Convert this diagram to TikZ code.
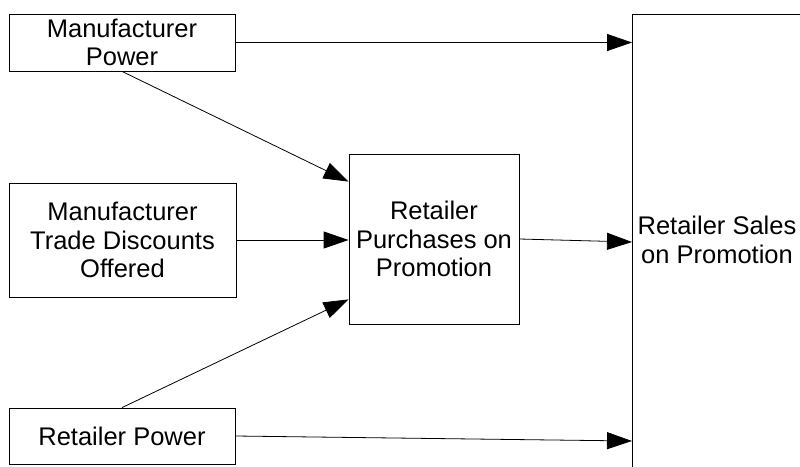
\documentclass[tikz,border=0pt]{standalone}
\usepackage{fontspec}
\setmainfont{Liberation Sans}
\usetikzlibrary{arrows.meta, calc}

\begin{document}
\begin{tikzpicture}[
    x=1pt, y=-1pt,
    factor/.style={rectangle, draw, line width=0.8pt, align=center, inner sep=0pt, font=\fontsize{25.5}{28.5}\selectfont},
    caption/.style={align=center, inner sep=0pt, font=\fontsize{25.5}{28.5}\selectfont},
    link/.style={-{Triangle[length=25pt, width=17pt]}, line width=0.8pt}
]
\useasboundingbox (0,0) rectangle (800,466);
\clip (0,0) rectangle (800,466);

% Nodes
\node[factor, minimum width=226pt, minimum height=57pt] (mfgPower) at (122,42.5) {Manufacturer\\Power};
\node[factor, minimum width=227pt, minimum height=114pt] (discounts) at (122.5,240) {Manufacturer\\Trade Discounts\\Offered};
\node[factor, minimum width=226pt, minimum height=56pt] (retPower) at (122,436) {Retailer Power};
\node[factor, minimum width=170pt, minimum height=170pt] (purchases) at (434,239) {Retailer\\Purchases on\\Promotion};
\node[factor, minimum width=172pt, minimum height=470pt, anchor=north west] (sales) at (632,14) {};
\node[caption] (salesText) at (717,240) {Retailer Sales\\on Promotion};

% Edges
\draw[link] (mfgPower.east) -- (mfgPower.east -| sales.west);
\draw[link] (mfgPower.south) -- ([yshift=-28pt]purchases.north west);
\draw[link] (discounts.east) -- (discounts.east -| purchases.west);
\draw[link] (retPower.north) -- ([yshift=25pt]purchases.south west);
\draw[link] (purchases.east) -- ($(purchases.east -| sales.west)+(0,3)$);
\draw[link] (retPower.east) -- ($(retPower.east -| sales.west)+(0,5)$);

\end{tikzpicture}
\end{document}
